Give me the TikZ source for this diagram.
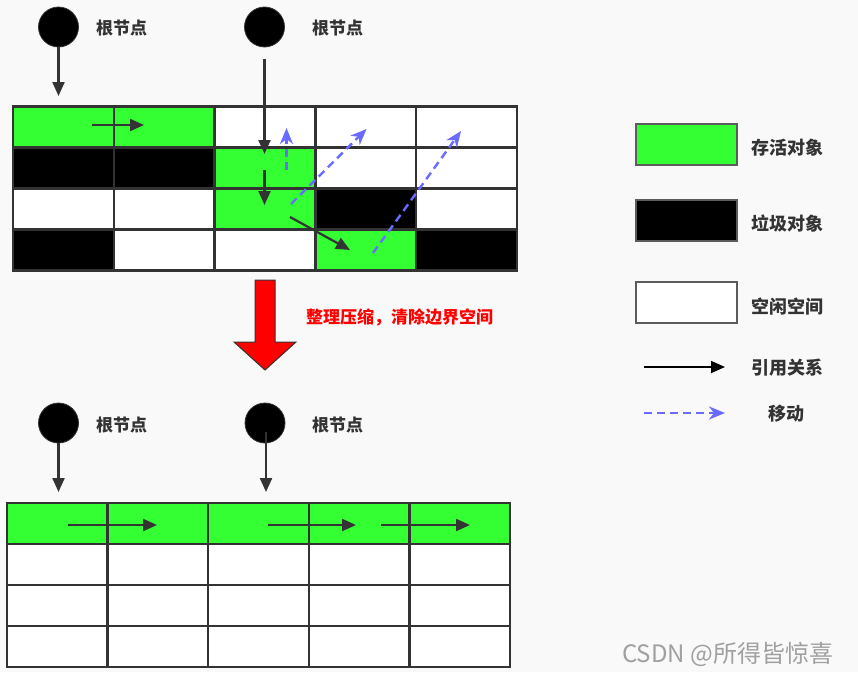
\documentclass[tikz,border=0pt]{standalone}
\usepackage{fontspec}
\newfontfamily\cjk{Noto Sans CJK SC}
\usetikzlibrary{arrows.meta}
\definecolor{bg}{HTML}{F9F9F9}
\definecolor{live}{HTML}{33FF33}
\definecolor{gridc}{HTML}{333333}
\definecolor{mv}{HTML}{6B6BFF}
\definecolor{txt}{HTML}{333333}
\definecolor{redc}{HTML}{FF0000}
\definecolor{wm}{HTML}{A0A0A0}
\begin{document}
\begin{tikzpicture}[x=1pt,y=-1pt,
 cell/.style={draw=gridc,line width=2.3pt,minimum width=100.8pt,minimum height=41pt,inner sep=0pt,outer sep=0pt},
 legbox/.style={draw=gridc!80,line width=2.3pt,minimum width=101pt,minimum height=41pt,inner sep=0pt,outer sep=0pt},
 root/.style={circle,fill=black,draw=black!80,line width=0.8pt,minimum size=40pt,inner sep=0pt},
 lbl/.style={font=\cjk\bfseries\fontsize{17}{17}\selectfont,text=txt,inner sep=0pt,anchor=west},
 leglbl/.style={font=\cjk\bfseries\fontsize{18}{18}\selectfont,text=txt,inner sep=0pt,anchor=west},
 ref/.style={draw=gridc,line width=2.2pt,-{Triangle[length=14pt,width=12pt]}},
 mvarrow/.style={draw=mv,line width=2.4pt,dash pattern=on 8pt off 5pt,-{Stealth[length=16pt,width=13pt,inset=5pt]}},
]
\useasboundingbox (0,0) rectangle (858,672);
\fill[bg] (0,0) rectangle (858,672);

% ---------- top grid ----------
\foreach \row [count=\r from 0] in {{live,live,white,white,white},{black,black,live,white,white},{white,white,live,black,white},{black,white,white,live,black}} {
  \foreach \c [count=\k from 0] in \row {
    \node[cell,fill=\c] (t-\r-\k) at ({63.4+100.8*\k},{127+41*\r}) {};
  }
}

% top roots
\node[root] (r1) at (58.5,27) {};
\node[lbl] (l1) at (96,28) {根节点};
\node[root] (r2) at (264.5,27) {};
\node[lbl] (l2) at (312,28) {根节点};

\coordinate (a1e) at (58.5,96);
\draw[ref] (r1.south) -- (a1e);
\coordinate (a2s) at (264.5,59);
\coordinate (a2e) at (264.5,154);
\draw[ref] (a2s) -- (a2e);
\coordinate (a3s) at (264.5,170);
\coordinate (a3e) at (264.5,205);
\draw[ref] (a3s) -- (a3e);
\coordinate (a4s) at (290,217);
\coordinate (a4e) at (350,250);
\draw[ref] (a4s) -- (a4e);
\coordinate (a5s) at (92,125);
\coordinate (a5e) at (144,125);
\draw[ref] (a5s) -- (a5e);

% moves
\coordinate (m1s) at (286.5,170);
\coordinate (m1e) at (286.5,128);
\draw[mvarrow] (m1s) -- (m1e);
\coordinate (m2s) at (291,204);
\coordinate (m2e) at (366.5,129);
\draw[mvarrow] (m2s) -- (m2e);
\coordinate (m3s) at (373,253);
\coordinate (m3e) at (461,131);
\draw[mvarrow] (m3s) -- (m3e);

% ---------- red arrow ----------
\draw[fill=redc,draw=gridc,line width=1pt,line join=miter]
  (255,280) -- (275,280) -- (275,342) -- (296,342) -- (265,370) -- (234,342) -- (255,342) -- cycle;
\node[font=\cjk\bfseries\fontsize{17}{17}\selectfont,text=redc,inner sep=0pt,anchor=west] (rt) at (306,317) {整理压缩，清除边界空间};

% ---------- bottom ----------
\node[root] (r3) at (58.5,423) {};
\node[lbl] (l3) at (96,425) {根节点};
\node[root] (r4) at (265,423) {};
\node[lbl] (l4) at (312,425) {根节点};

\foreach \row [count=\r from 0] in {{live,live,live,live,live},{white,white,white,white,white},{white,white,white,white,white},{white,white,white,white,white}} {
  \foreach \c [count=\k from 0] in \row {
    \node[cell,fill=\c,minimum width=100.6pt] (b-\r-\k) at ({57.3+100.6*\k},{523.5+41*\r}) {};
  }
}

\coordinate (b1e) at (58.5,492);
\draw[ref] (r3.south) -- (b1e);
\coordinate (b2s) at (266,432);
\coordinate (b2e) at (266,492);
\draw[ref] (b2s) -- (b2e);
\coordinate (b3s) at (67.6,525);
\coordinate (b3e) at (157,525);
\draw[ref] (b3s) -- (b3e);
\coordinate (b4s) at (268,525);
\coordinate (b4e) at (356,525);
\draw[ref] (b4s) -- (b4e);
\coordinate (b5s) at (381,525);
\coordinate (b5e) at (470,525);
\draw[ref] (b5s) -- (b5e);

% ---------- legend ----------
\node[legbox,fill=live] (lg1) at (686.5,144.5) {};
\node[leglbl] (lt1) at (751,148) {存活对象};
\node[legbox,fill=black] (lg2) at (686.5,220.5) {};
\node[leglbl] (lt2) at (751,224) {垃圾对象};
\node[legbox,fill=white] (lg3) at (686.5,302.5) {};
\node[leglbl] (lt3) at (751,307) {空闲空间};
\coordinate (lr1) at (644,367);
\coordinate (lr2) at (725,367);
\draw[ref,draw=black,line width=1.6pt] (lr1) -- (lr2);
\node[leglbl] (lt4) at (751,368) {引用关系};
\coordinate (lm1) at (644,413);
\coordinate (lm2) at (725,413);
\draw[mvarrow] (lm1) -- (lm2);
\node[leglbl] (lt5) at (768,414) {移动};

% watermark
\node[font=\cjk\fontsize{24}{24}\selectfont,text=wm,inner sep=0pt,anchor=west] (wmk) at (622,654) {CSDN @所得皆惊喜};
\end{tikzpicture}
\end{document}
